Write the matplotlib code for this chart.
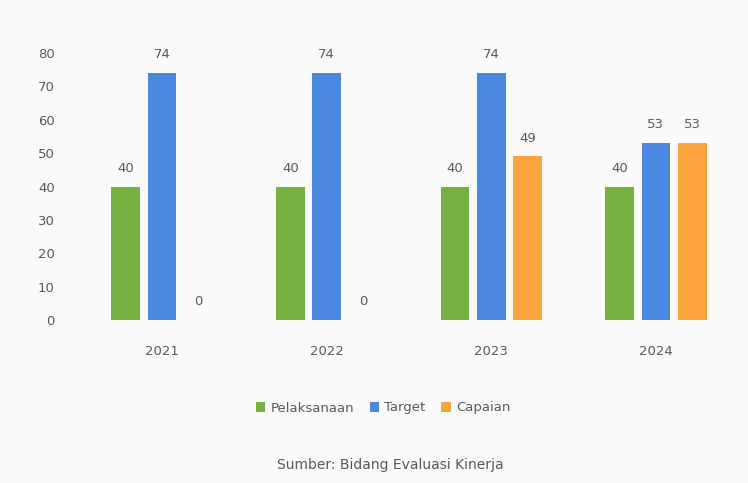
import matplotlib
matplotlib.use("Agg")
import matplotlib.pyplot as plt
import numpy as np

categories = ["2021", "2022", "2023", "2024"]
series_names = ["Pelaksanaan", "Target", "Capaian"]
green_vals = [40, 40, 40, 40]
blue_vals = [74, 74, 74, 53]
orange_vals = [0, 0, 49, 53]
yticks = [0, 10, 20, 30, 40, 50, 60, 70, 80]
source_text = "Sumber: Bidang Evaluasi Kinerja"

colors = ["#76B041", "#4A88E0", "#FBA33C"]
txt = "#595959"

W, H = 748, 483
fig = plt.figure(figsize=(W / 100, H / 100), dpi=100)
fig.patch.set_facecolor("#fafafa")
left, right, top, bottom = 88, 730, 53, 320
ax = fig.add_axes([left / W, 1 - bottom / H, (right - left) / W, (bottom - top) / H])
ax.set_facecolor("#fafafa")

x = np.arange(len(categories))
step = 0.22
width = 0.175
all_vals = [green_vals, blue_vals, orange_vals]
for i, (vals, c, name) in enumerate(zip(all_vals, colors, series_names)):
    xs = x + (i - 1) * step
    ax.bar(xs, vals, width=width, color=c, label=name, zorder=3)
    for xi, v in zip(xs, vals):
        ax.text(xi, v + 5.5, f"{v}", ha="center", va="center", fontsize=9.5,
                color=txt, clip_on=False)

ax.set_xlim(-0.45, 3.45)
ax.set_ylim(0, 80)
ax.set_yticks(yticks)
ax.set_yticklabels([str(t) for t in yticks], fontsize=9.5, color=txt)
ax.set_xticks(x)
ax.set_xticklabels(categories, fontsize=9.5, color=txt)
ax.tick_params(axis="both", length=0)
ax.tick_params(axis="y", pad=24)
ax.tick_params(axis="x", pad=18)
for s in ax.spines.values():
    s.set_visible(False)

leg = fig.legend(loc="center", bbox_to_anchor=(383 / W, 1 - 408 / H), ncol=3,
                 frameon=False, fontsize=9.5, handlelength=0.7, handleheight=0.7,
                 columnspacing=1.2, handletextpad=0.4)
for t in leg.get_texts():
    t.set_color(txt)

fig.text(390 / W, 1 - 465 / H, source_text, ha="center", va="center",
         fontsize=10, color=txt)

fig.savefig("out.png", dpi=100, facecolor=fig.get_facecolor())
